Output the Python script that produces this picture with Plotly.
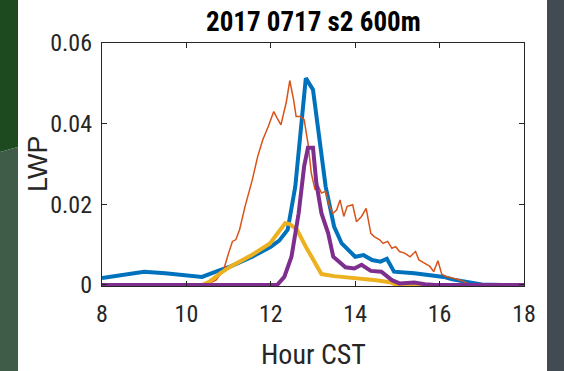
import plotly.graph_objects as go

# Liquid water path time series, 2017-07-17, s2 at 600 m
blue_hour = [8.0, 8.5, 9.0, 9.5, 10.0, 10.37, 10.7, 11.05, 11.56, 12.0, 12.2, 12.4,
             12.58, 12.7, 12.83, 13.0, 13.13, 13.3, 13.5, 13.68, 14.0, 14.2, 14.4,
             14.6, 14.75, 14.92, 15.4, 15.82, 16.1, 16.3, 16.66, 17.0, 17.5, 18.0]
blue_lwp = [0.0017, 0.0026, 0.0033, 0.0029, 0.0023, 0.0020, 0.0033, 0.0046, 0.0070,
            0.0095, 0.0110, 0.0137, 0.0244, 0.0377, 0.0513, 0.0484, 0.0377, 0.0244,
            0.0145, 0.0103, 0.0070, 0.0074, 0.0062, 0.0058, 0.0065, 0.0033, 0.0029,
            0.0025, 0.0020, 0.0014, 0.0006, 0.0001, 0.0, 0.0]

orange_hour = [8.0, 10.45, 10.7, 10.88, 11.0, 11.09, 11.17, 11.26, 11.39, 11.56, 11.69,
               11.81, 11.94, 12.07, 12.15, 12.24, 12.37, 12.45, 12.54, 12.6, 12.7,
               12.79, 12.88, 12.96, 13.05, 13.13, 13.2, 13.3, 13.39, 13.47, 13.56,
               13.64, 13.73, 13.81, 13.94, 14.03, 14.15, 14.26, 14.37, 14.45, 14.58,
               14.66, 14.77, 14.87, 14.96, 15.05, 15.17, 15.3, 15.43, 15.51, 15.64,
               15.77, 15.86, 15.96, 16.05, 16.15, 16.32, 16.5, 16.66, 16.83, 18.0]
orange_lwp = [0.0, 0.0, 0.0012, 0.0037, 0.0079, 0.0108, 0.0112, 0.0137, 0.0195, 0.0260,
              0.0319, 0.0360, 0.0393, 0.0430, 0.0414, 0.0397, 0.0455, 0.0507, 0.0459,
              0.0418, 0.0418, 0.0410, 0.0352, 0.0277, 0.0236, 0.0244, 0.0228, 0.0232,
              0.0195, 0.0178, 0.0186, 0.0211, 0.0170, 0.0195, 0.0199, 0.0157, 0.0170,
              0.0190, 0.0128, 0.0120, 0.0112, 0.0103, 0.0108, 0.0091, 0.0095, 0.0083,
              0.0079, 0.0070, 0.0083, 0.0062, 0.0054, 0.0046, 0.0033, 0.0060, 0.0027,
              0.0021, 0.0017, 0.0012, 0.0004, 0.0, 0.0]

yellow_hour = [8.0, 10.37, 10.54, 10.8, 11.05, 11.56, 11.98, 12.34, 12.45, 12.62,
               12.83, 13.05, 13.2, 13.5, 14.0, 14.5, 14.82, 14.98, 18.0]
yellow_lwp = [0.0, 0.0, 0.0008, 0.0029, 0.0046, 0.0075, 0.0103, 0.0153, 0.0151,
              0.0137, 0.0095, 0.0054, 0.0027, 0.0022, 0.0018, 0.0012, 0.0007, 0.0, 0.0]

purple_hour = [8.0, 12.15, 12.32, 12.49, 12.66, 12.79, 12.88, 13.0, 13.08, 13.2, 13.36,
               13.48, 13.77, 13.98, 14.15, 14.37, 14.62, 14.87, 15.05, 15.4, 15.65,
               15.9, 18.0]
purple_lwp = [0.0, 0.0, 0.0020, 0.0070, 0.0178, 0.0294, 0.0340, 0.0340, 0.0252, 0.0178,
              0.0128, 0.0070, 0.0044, 0.0041, 0.0050, 0.0035, 0.0033, 0.0012, 0.0004,
              0.0006, 0.0002, 0.0, 0.0]

x_ticks = [8, 10, 12, 14, 16, 18]
y_ticks = [0, 0.02, 0.04, 0.06]
y_tick_text = ["0", "0.02", "0.04", "0.06"]

NARROW = "Roboto Condensed, Liberation Sans, Arial, sans-serif"
REGULAR = "Liberation Sans, Arial, sans-serif"
INK = "#262626"

fig = go.Figure()
fig.add_trace(go.Scatter(x=blue_hour, y=blue_lwp, mode="lines",
                         line=dict(color="#0072BD", width=4)))
fig.add_trace(go.Scatter(x=orange_hour, y=orange_lwp, mode="lines",
                         line=dict(color="#D95319", width=1.5)))
fig.add_trace(go.Scatter(x=yellow_hour, y=yellow_lwp, mode="lines",
                         line=dict(color="#EDB120", width=4)))
fig.add_trace(go.Scatter(x=purple_hour, y=purple_lwp, mode="lines",
                         line=dict(color="#7E2F8E", width=4)))

W, H = 564, 371
L, R, T, B = 102, 40, 43, 85
pw, ph = W - L - R, H - T - B


def px(xp):
    return (xp - L) / pw


def py(yp):
    return (H - B - yp) / ph


# Dark slide backdrop on both sides of the white figure
shapes = [
    dict(type="path", xref="paper", yref="paper", layer="below", line_width=0,
         fillcolor="#1d4b1f",
         path=f"M {px(0)} {py(0)} L {px(18)} {py(0)} L {px(18)} {py(147)} "
              f"L {px(0)} {py(152)} Z"),
    dict(type="path", xref="paper", yref="paper", layer="below", line_width=0,
         fillcolor="#3e5c47",
         path=f"M {px(0)} {py(152)} L {px(18)} {py(147)} L {px(18)} {py(371)} "
              f"L {px(0)} {py(371)} Z"),
    dict(type="rect", xref="paper", yref="paper", layer="below", line_width=0,
         fillcolor="#424b52", x0=px(547), x1=px(564), y0=py(0), y1=py(371)),
]

annotations = [
    dict(text="2017 0717 s2 600m", xref="paper", yref="paper",
         x=px(313), y=py(22), xanchor="center", yanchor="middle", showarrow=False,
         font=dict(family=NARROW, size=27, weight=700, color="#000000")),
    dict(text="Hour CST", xref="paper", yref="paper",
         x=px(313), y=py(354), xanchor="center", yanchor="middle", showarrow=False,
         font=dict(family=NARROW, size=28, color=INK)),
    dict(text="LWP", xref="paper", yref="paper", textangle=-90,
         x=px(38), y=py(164), xanchor="center", yanchor="middle", showarrow=False,
         font=dict(family=REGULAR, size=27, color=INK)),
]

axis_common = dict(showline=True, linecolor=INK, linewidth=1.3, mirror="ticks",
                   ticks="inside", ticklen=5, tickcolor=INK, tickwidth=1.3,
                   showgrid=False, zeroline=False,
                   tickfont=dict(family=NARROW, size=24, color=INK))

fig.update_layout(
    width=W, height=H,
    margin=dict(l=L, r=R, t=T, b=B, pad=0),
    paper_bgcolor="#ffffff", plot_bgcolor="#ffffff",
    showlegend=False,
    shapes=shapes, annotations=annotations,
    xaxis=dict(range=[8, 18], tickvals=x_ticks, ticklabelstandoff=6, **axis_common),
    yaxis=dict(range=[-0.00025, 0.06], tickvals=y_ticks, ticktext=y_tick_text,
               ticklabelstandoff=4, **axis_common),
)

fig.write_html("out.html")
